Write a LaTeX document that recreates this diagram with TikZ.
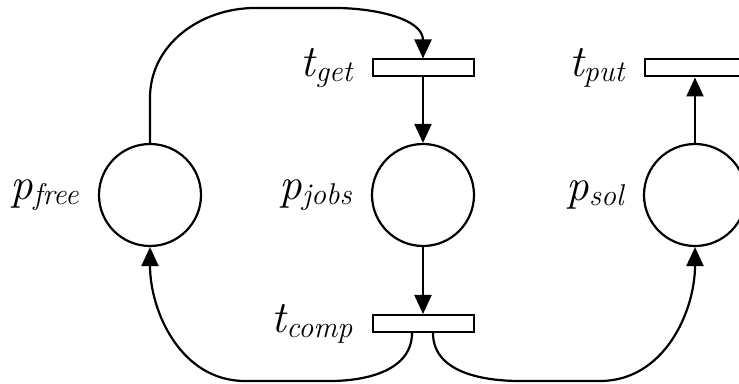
\documentclass[tikz,border=0pt]{standalone}
\usetikzlibrary{arrows.meta, positioning}

% italic name with a lowered, smaller italic index
\newcommand{\plabel}[2]{\fontsize{45}{48}\selectfont\itshape #1\raisebox{-5pt}{\fontsize{30}{32}\selectfont #2}}

\begin{document}
\begin{tikzpicture}[
    x=1pt, y=1pt,
    place/.style={circle, draw, line width=2.2pt, minimum size=102pt, inner sep=0pt},
    transition/.style={rectangle, draw, line width=2pt, minimum width=101pt, minimum height=17pt, inner sep=0pt},
    tag/.style={label={[inner sep=0pt, label distance=19pt]left:#1}},
    arc/.style={-{Triangle[length=19pt, width=17pt]}, line width=2.2pt}
]
\useasboundingbox (0,0) rectangle (739,383);

% Places
\node[place, tag={\plabel{p}{free}}] (pfree) at (150,188) {};
\node[place, tag={\plabel{p}{jobs}}] (pjobs) at (423,188) {};
\node[place, tag={\plabel{p}{sol}}] (psol) at (695,188) {};

% Transitions
\node[transition, tag={\plabel{t}{get}}] (tget) at (423,315) {};
\node[transition, tag={\plabel{t}{comp}}] (tcomp) at (423,59.5) {};
\node[transition, tag={\plabel{t}{put}}] (tput) at (695,315) {};

% Straight arcs
\draw[arc] (tget) -- (pjobs);
\draw[arc] (pjobs) -- (tcomp);
\draw[arc] (psol) -- (tput);

% Curved arcs
\draw[arc] (pfree.north) -- (150,285) to[out=90, in=180] (255,375) -- (335,375)
    to[out=0, in=90] (tget.north);
\draw[arc] ([xshift=-11pt]tcomp.south) to[out=-90, in=0] (330,2) -- (245,2)
    to[out=180, in=-90] (pfree.south);
\draw[arc] ([xshift=10pt]tcomp.south) to[out=-90, in=180] (520,2) -- (600,2)
    to[out=0, in=-90] (psol.south);

\end{tikzpicture}
\end{document}
